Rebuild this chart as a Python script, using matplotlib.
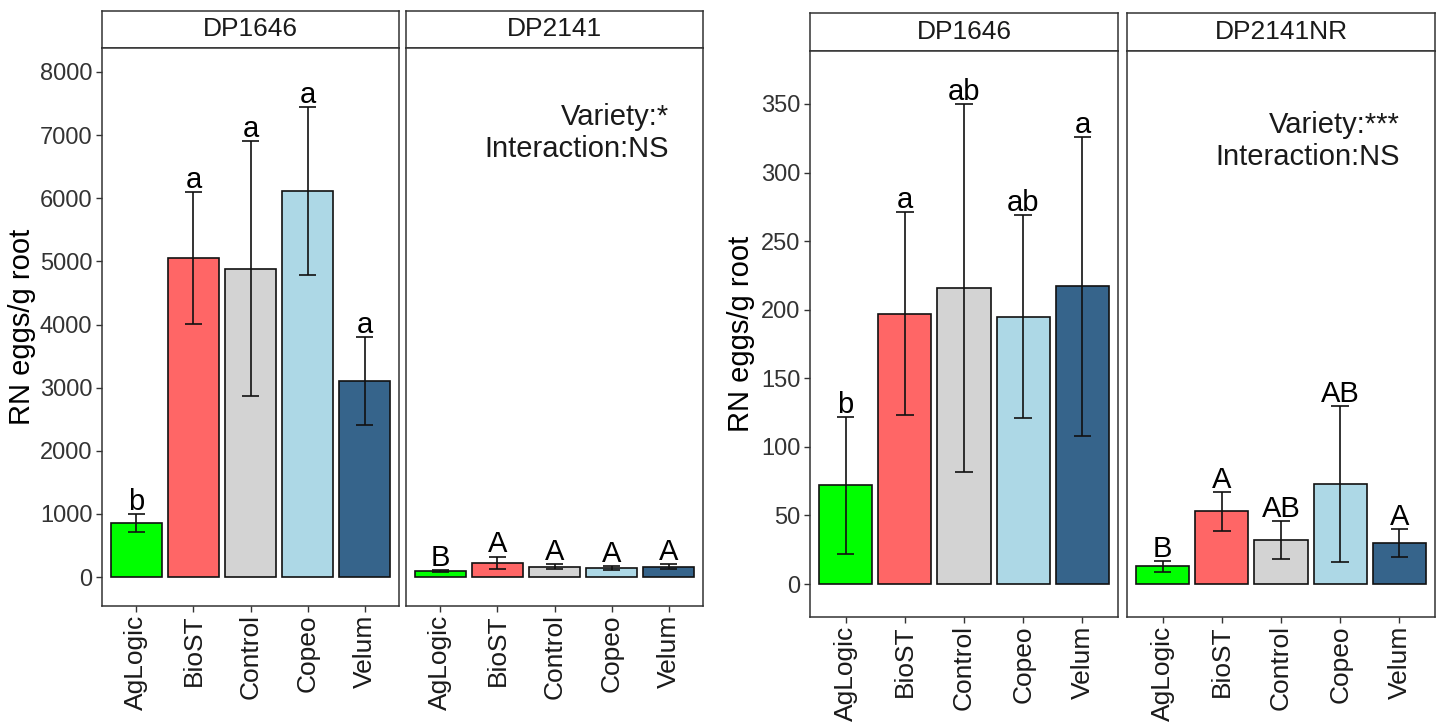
import matplotlib
matplotlib.use("Agg")
import matplotlib.pyplot as plt
import numpy as np

plt.rcParams['font.family'] = ['Liberation Sans', 'DejaVu Sans']

categories = ["AgLogic", "BioST", "Control", "Copeo", "Velum"]
bar_colors = ["#00FF00", "#FF6666", "#D3D3D3", "#ADD8E6", "#36648B"]

# Left figure (first trial)
left_dp1646_mean = [856, 5055, 4881, 6117, 3106]
left_dp1646_se = [143, 1046, 2020, 1331, 690]
left_dp1646_letters = ["b", "a", "a", "a", "a"]
left_dp2141_mean = [95, 225, 160, 145, 160]
left_dp2141_se = [15, 100, 40, 30, 40]
left_dp2141_letters = ["B", "A", "A", "A", "A"]
left_yticks = [0, 1000, 2000, 3000, 4000, 5000, 6000, 7000, 8000]
left_note = "Variety:*\nInteraction:NS"

# Right figure (second trial)
right_dp1646_mean = [72, 197, 216, 195, 217]
right_dp1646_se = [50, 74, 134, 74, 109]
right_dp1646_letters = ["b", "a", "ab", "ab", "a"]
right_dp2141nr_mean = [13, 53, 32, 73, 30]
right_dp2141nr_se = [4, 14, 14, 57, 10]
right_dp2141nr_letters = ["B", "A", "AB", "AB", "A"]
right_yticks = [0, 50, 100, 150, 200, 250, 300, 350]
right_note = "Variety:***\nInteraction:NS"

W, H = 1440, 723
fig = plt.figure(figsize=(W / 100, H / 100), dpi=100)

BORDER = "#333333"
TICKC = "#333333"
TXT = "#1a1a1a"
LW = 1.2


def px_axes(x0, x1, y0, y1):
    return fig.add_axes([x0 / W, 1 - y1 / H, (x1 - x0) / W, (y1 - y0) / H])


def strip(x0, x1, y0, y1, label):
    ax = px_axes(x0, x1, y0, y1)
    ax.set_xticks([])
    ax.set_yticks([])
    for s in ax.spines.values():
        s.set_color(BORDER)
        s.set_linewidth(1.1)
    ax.text(0.5, 0.5, label, ha="center", va="center", fontsize=19, color=TXT,
            transform=ax.transAxes)


def panel(x0, x1, y0, y1, means, ses, letters, ylim, yticks, show_y, note=None, note_y=None):
    ax = px_axes(x0, x1, y0, y1)
    x = np.arange(1, len(categories) + 1)
    ax.bar(x, means, width=0.9, color=bar_colors, edgecolor="#111111", linewidth=LW, zorder=2)
    ax.errorbar(x, means, yerr=ses, fmt="none", ecolor="#111111", elinewidth=LW,
                capsize=0, zorder=3)
    for xi, m, s in zip(x, means, ses):
        ax.hlines([m - s, m + s], xi - 0.15, xi + 0.15, color="#111111", lw=LW, zorder=3)
    for xi, m, s, lab in zip(x, means, ses, letters):
        ax.annotate(lab, (xi, m + s), xytext=(0, 3), textcoords="offset points",
                    ha="center", va="baseline", fontsize=21, color="black", zorder=4)
    ax.set_xlim(0.4, 5.6)
    ax.set_ylim(*ylim)
    ax.set_xticks(x)
    ax.set_xticklabels(categories, rotation=90, fontsize=19, color=TXT)
    ax.set_yticks(yticks)
    if show_y:
        ax.set_yticklabels([str(t) for t in yticks], fontsize=17, color="#333333")
        ax.tick_params(axis="y", length=4, width=1, color=TICKC, pad=3)
    else:
        ax.tick_params(axis="y", left=False, labelleft=False)
    ax.tick_params(axis="x", length=4, width=1, color=TICKC, pad=2)
    for s in ax.spines.values():
        s.set_color(BORDER)
        s.set_linewidth(1.1)
    if note is not None:
        ax.text(5, note_y, note, ha="right", va="center", fontsize=21, color=TXT)
    return ax


# Left figure
strip(102, 399, 11, 48, "DP1646")
strip(406, 703, 11, 48, "DP2141")
panel(102, 399, 48, 606, left_dp1646_mean, left_dp1646_se, left_dp1646_letters,
      (-459, 8380), left_yticks, True)
panel(406, 703, 48, 606, left_dp2141_mean, left_dp2141_se, left_dp2141_letters,
      (-459, 8380), left_yticks, False, left_note, 7035)
fig.text(22 / W, 1 - 327 / H, "RN eggs/g root", rotation=90, ha="center", va="center",
         fontsize=21, color="black")

# Right figure
strip(810, 1118, 13, 51, "DP1646")
strip(1127, 1435, 13, 51, "DP2141NR")
panel(810, 1118, 51, 617, right_dp1646_mean, right_dp1646_se, right_dp1646_letters,
      (-24, 388.6), right_yticks, True)
panel(1127, 1435, 51, 617, right_dp2141nr_mean, right_dp2141nr_se, right_dp2141nr_letters,
      (-24, 388.6), right_yticks, False, right_note, 323)
fig.text(741 / W, 1 - 334 / H, "RN eggs/g root", rotation=90, ha="center", va="center",
         fontsize=21, color="black")

fig.savefig("out.png", dpi=100, facecolor="white")
